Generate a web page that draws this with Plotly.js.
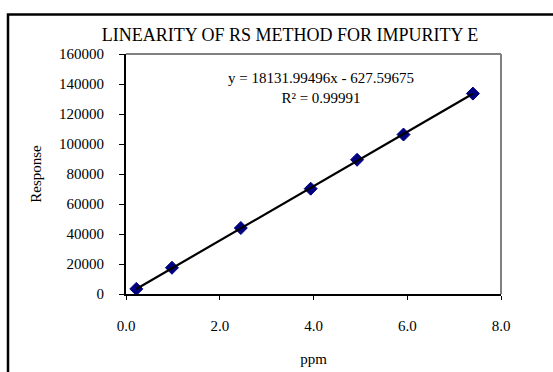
<!DOCTYPE html>
<html>
<head>
<meta charset="utf-8">
<script src="https://cdn.plot.ly/plotly-3.0.1.min.js"></script>
<style>html,body{margin:0;padding:0;background:#fff;}#chart{width:553px;height:372px;}</style>
</head>
<body>
<div id="chart"></div>
<script>
// Data
const ppm = [0.22, 0.98, 2.45, 3.94, 4.93, 5.92, 7.40];
const response = [3400, 17500, 44000, 70200, 89500, 106300, 133600];
const slope = 18131.99496;
const intercept = -627.59675;
const rSquared = 0.99991;
const yTicks = [0, 20000, 40000, 60000, 80000, 100000, 120000, 140000, 160000];
const xTicks = [0, 2, 4, 6, 8];
const xTickText = ['0.0', '2.0', '4.0', '6.0', '8.0'];

const xMin = Math.min(...ppm), xMax = Math.max(...ppm);
const trendX = [xMin, xMax];
const trendY = trendX.map(x => slope * x + intercept);

const font = {family: '"Liberation Serif", "Times New Roman", serif', color: '#000'};

const traces = [
  {x: ppm, y: response, type: 'scatter', mode: 'markers',
   marker: {symbol: 'diamond', size: 10, color: '#000080', line: {color: '#000080', width: 1}},
   hoverinfo: 'x+y', showlegend: false},
  {x: trendX, y: trendY, type: 'scatter', mode: 'lines',
   line: {color: '#000', width: 2.2}, hoverinfo: 'skip', showlegend: false}
];

const layout = {
  width: 553, height: 372,
  margin: {l: 126, r: 52, t: 54, b: 78},
  paper_bgcolor: '#fff', plot_bgcolor: '#fff',
  font: Object.assign({size: 15}, font),
  title: {text: 'LINEARITY OF RS METHOD FOR IMPURITY E', font: Object.assign({size: 18}, font),
          x: 290 / 553, xref: 'container', xanchor: 'center', y: 1 - 35 / 372, yref: 'container', yanchor: 'middle'},
  xaxis: {range: [0, 8], tickvals: xTicks, ticktext: xTickText, showgrid: false, zeroline: false,
          showline: true, linecolor: '#000', linewidth: 2, ticks: 'outside', ticklen: 4, tickcolor: '#000', tickwidth: 1,
          ticklabelstandoff: 13, tickfont: Object.assign({size: 15}, font),
          title: {text: 'ppm', font: Object.assign({size: 15}, font), standoff: 20}, fixedrange: true},
  yaxis: {range: [0, 160000], tickvals: yTicks, showgrid: false, zeroline: false,
          showline: true, linecolor: '#000', linewidth: 2, ticks: 'outside', ticklen: 5, tickcolor: '#000', tickwidth: 1,
          ticklabelstandoff: 12, tickfont: Object.assign({size: 15}, font), tickformat: 'd',
          title: {text: 'Response', font: Object.assign({size: 15}, font), standoff: 14}, fixedrange: true},
  shapes: [
    {type: 'line', xref: 'paper', yref: 'paper', x0: 0, x1: 1, y0: 1, y1: 1, line: {color: '#808080', width: 2}},
    {type: 'line', xref: 'paper', yref: 'paper', x0: 1, x1: 1, y0: 0, y1: 1, line: {color: '#808080', width: 2}},
    {type: 'rect', xref: 'paper', yref: 'paper', x0: (8 - 126) / 375, x1: (600 - 126) / 375,
     y0: (294 - 400) / 240, y1: (294 - 14.5) / 240, line: {color: '#000', width: 2.5}}
  ],
  annotations: [
    {x: 4.16, y: 137500, xref: 'x', yref: 'y', showarrow: false, align: 'center',
     text: 'y = ' + slope.toFixed(5) + 'x - ' + Math.abs(intercept).toFixed(5) + '<br>R² = ' + rSquared.toFixed(5),
     font: Object.assign({size: 15}, font)}
  ]
};

Plotly.newPlot('chart', traces, layout, {displayModeBar: false, staticPlot: true});
</script>
</body>
</html>
